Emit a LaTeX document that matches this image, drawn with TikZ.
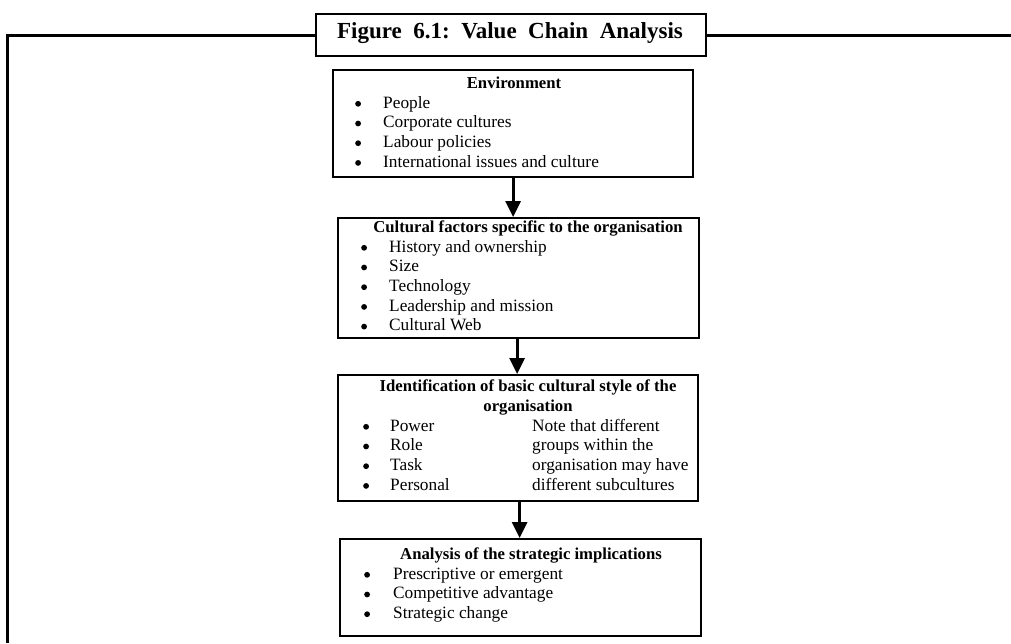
\documentclass[tikz,border=0pt]{standalone}
\usepackage{fontspec}
\setmainfont{Liberation Serif}
\usetikzlibrary{arrows.meta}

\newcommand\dotmark{\tikz[baseline=-4.2pt]\fill (0,0) circle (2.9pt);}
\newcommand\itm[1]{\dotmark & #1\\}
\newcommand\bodyfont{\fontsize{17.3}{19.7}\selectfont}
\newcommand\headfont{\fontsize{16.7}{19.3}\selectfont\bfseries}

\tikzset{
  stagebox/.style={draw, line width=2.2pt, anchor=north west, inner sep=0pt, fill=white},
  heading/.style={font=\headfont, anchor=base, inner sep=0pt, align=center},
  items/.style={font=\bodyfont, anchor=base west, inner sep=0pt},
  flow/.style={line width=2.8pt, -{Triangle[width=15pt,length=16pt]}},
}

\begin{document}
\begin{tikzpicture}[x=1pt,y=-1pt]
\useasboundingbox (0,0) rectangle (1011,643);

% outer frame, open at right and bottom
\draw[line width=2.7pt] (1011,35.5) -- (7.5,35.5) -- (7.5,643);

% figure caption
\node[draw, line width=2.4pt, fill=white, anchor=north west, inner sep=0pt,
      minimum width=390pt, minimum height=42pt] (capbox) at (315,13) {};
\node[font=\fontsize{23}{27}\selectfont\bfseries, inner sep=0pt] (cap) at (510,33.5)
  {Figure\ \ 6.1:\ \ Value\ \ Chain\ \ Analysis};

% stage 1
\node[stagebox, minimum width=360pt, minimum height=107pt] (env) at (332,69) {};
\node[heading] (envt) at (514,88) {Environment};
\node[items] (envl) at (355,108) {\begin{tabular}[t]{@{}p{28pt}@{}l@{}}
  \itm{People}
  \itm{Corporate cultures}
  \itm{Labour policies}
  \itm{International issues and culture}
\end{tabular}};

% stage 2
\node[stagebox, minimum width=361pt, minimum height=120pt] (cult) at (337,217) {};
\node[heading] (cultt) at (528,232) {Cultural factors specific to the organisation};
\node[items] (cultl) at (361,252) {\begin{tabular}[t]{@{}p{28pt}@{}l@{}}
  \itm{History and ownership}
  \itm{Size}
  \itm{Technology}
  \itm{Leadership and mission}
  \itm{Cultural Web}
\end{tabular}};

% stage 3 (base anchor of a two-line heading sits on its last line)
\node[stagebox, minimum width=360pt, minimum height=126pt] (style) at (337,374) {};
\node[heading] (stylet) at (528,411) {Identification of basic cultural style of the\\organisation};
\node[items] (stylel) at (363,431) {\begin{tabular}[t]{@{}p{27pt}@{}p{142pt}@{}l@{}}
  \dotmark & Power & Note that different\\
  \dotmark & Role & groups within the\\
  \dotmark & Task & organisation may have\\
  \dotmark & Personal & different subcultures\\
\end{tabular}};

% stage 4
\node[stagebox, minimum width=361pt, minimum height=97pt] (impl) at (339,538) {};
\node[heading] (implt) at (531,559) {Analysis of the strategic implications};
\node[items] (impll) at (364,579) {\begin{tabular}[t]{@{}p{29pt}@{}l@{}}
  \itm{Prescriptive or emergent}
  \itm{Competitive advantage}
  \itm{Strategic change}
\end{tabular}};

% connectors
\draw[flow] (env.south) -- (env.south |- cult.north);
\draw[flow] ([xshift=-1.5pt]cult.south) -- ([xshift=-1.5pt]cult.south |- style.north);
\draw[flow] ([xshift=1.5pt]style.south) -- ([xshift=1.5pt]style.south |- impl.north);
\end{tikzpicture}
\end{document}
